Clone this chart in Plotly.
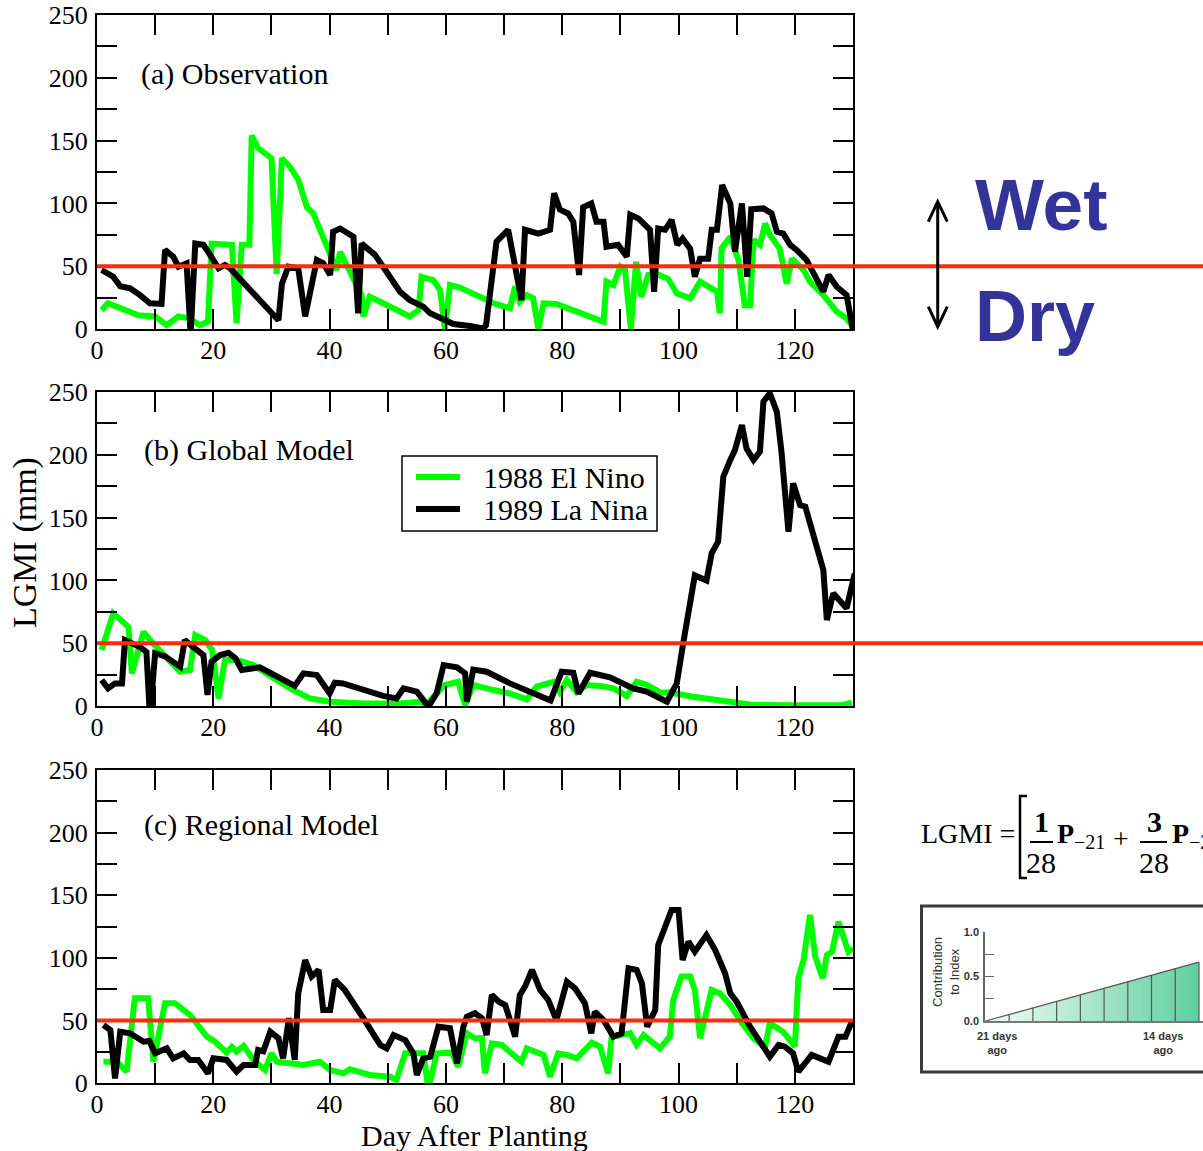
import plotly.graph_objects as go

W, H = 1203, 1151


def px(x):
    return x / W


def py(y):
    return 1 - y / H


GREEN = "#00ff00"
BLACK = "#000000"
RED = "#ff2a10"
NAVY = "#333399"
SERIF = "Liberation Serif"
SANS = "Liberation Sans"

# ---------------- data ----------------
# (a) Observation
obs_nino_day = [0.8, 1.9, 7.1, 10, 12, 14, 15.9, 17.7, 19.1, 19.7,
                23.2, 24, 24.9, 26.2, 26.6, 27.7, 30, 30.9, 31.8, 33.2,
                34.6, 36.1, 37.2, 38.9, 40.1, 41.2, 41.8, 44.1, 45.5, 45.8,
                46.9, 48.7, 53.8, 55.3, 55.8, 57.8, 59, 59.8, 60.7, 62.4,
                65.9, 68.2, 71, 71.9, 72.7, 73.9, 75, 75.9, 76.8, 79,
                82.5, 87.1, 87.6, 88.8, 90, 90.8, 91.8, 92.7, 93.6, 94.8,
                96.2, 98.2, 99.7, 100.8, 102, 103.7, 105.4, 106.6, 107.1, 107.4,
                108.9, 110.3, 111.4, 112.3, 112.9, 114, 114.9, 115.7, 117.4, 118.6,
                119.5, 121.5, 122.6, 124.9, 127.2, 128.9, 129.8]
obs_nino_val = [15, 20.5, 11, 10, 3, 10, 8.5, 3, 6, 68,
                67, 4.5, 67, 67, 154, 144, 136, 44, 136, 129,
                119, 97, 92, 73.5, 60, 47, 61.5, 41.6, 27, 10,
                25.7, 21.7, 10, 15, 41.6, 39, 31, 0, 35, 33,
                25.7, 20.5, 16.5, 33.7, 21.7, 27, 24.4, 0, 20.5, 20,
                13.8, 5.8, 37.7, 35, 49.6, 47, 0, 53.6, 25.7, 43,
                44, 40, 28.4, 27, 24.4, 37.7, 33.7, 29.7, 12.5, 64,
                73.5, 55, 19, 19, 71, 67, 84, 75, 64, 36,
                56, 47, 37.7, 27, 13.8, 8.5, 3]
obs_nina_day = [0.8, 2.8, 4, 5.7, 7.4, 9.1, 11.1, 11.7, 13.1, 14,
                15.4, 16.1, 16.9, 18.3, 19.1, 20.9, 22, 22.9, 31.2, 31.8,
                32.9, 34.6, 35.8, 37.8, 38.9, 40.1, 40.6, 41.8, 44.1, 44.9,
                45.5, 47.8, 49.2, 52.1, 53.8, 56.1, 57.3, 59, 61.3, 64.1,
                66.4, 66.9, 68.7, 70.7, 73, 73.6, 75.9, 77.9, 78.6, 79.6,
                81, 81.9, 82.9, 83.6, 85, 85.9, 87.1, 87.6, 89.6, 91.1,
                91.7, 93.1, 95.1, 95.8, 96.5, 97.7, 98.8, 99.8, 100.7, 102,
                102.8, 103.7, 105.1, 105.7, 106.6, 107.5, 108.9, 109.7, 110.9, 111.8,
                112.5, 114.6, 116, 116.9, 118, 119.2, 120.3, 122, 124.9, 125.8,
                127.2, 128.9, 130.3]
obs_nina_val = [47, 41.6, 34, 32.4, 27, 20.5, 20, 63, 57.6, 49.6,
                52.3, -4, 68, 67, 61.5, 48.3, 51, 48.3, 7, 36,
                49.6, 48.3, 10, 55, 52.3, 43, 77.5, 80, 73.5, 12.5,
                68, 59, 49.6, 29.7, 23, 17.8, 12.5, 8.5, 4, 2.4,
                0.5, 3, 69.5, 79, 23, 79, 76, 79, 108, 95,
                92, 85.4, 43, 97, 100, 85.4, 85.4, 65.5, 67, 57.6,
                91, 88, 79, 29.7, 80, 79, 86.8, 67, 72, 64,
                41.6, 56, 56, 79, 79, 114.6, 100, 61.5, 100, 41.6,
                95.3, 96, 92, 77.5, 76, 67, 63, 55, 29.7, 43,
                33.7, 27, -9]

# (b) Global Model
glb_nino_day = [0.8, 2.8, 5.4, 6, 8, 9.4, 14.3, 16, 16.9, 18.6,
                19.8, 20.9, 22, 24, 26.9, 29.2, 33.2, 36.6, 40.1, 45.8,
                52.1, 55.5, 56.6, 59.8, 62.1, 63.3, 64.7, 68.2, 71, 73.9,
                75.6, 78.5, 79.6, 80.8, 82.5, 84.2, 86.5, 88.8, 91.1, 92.8,
                94.6, 96.9, 98.3, 102.5, 108.3, 112.9, 119.7, 127.8, 129.8]
glb_nino_val = [44.6, 73.8, 63, 26, 59, 51, 27.3, 28.7, 56.5, 52.5,
                44.6, 6, 36.6, 36.6, 32.6, 26, 14, 6, 3.4, 2,
                2, 3.4, 1, 16.7, 19.3, 0.8, 16.7, 12.7, 10, 5.3,
                15.4, 19.3, 11, 20.7, 11, 16.7, 16, 14, 8, 19.3,
                16.7, 10.6, 11, 7.4, 3.4, 0.8, 0.5, 0.5, 2.6]
glb_nina_day = [0.8, 1.9, 3.1, 4.3, 4.8, 7.4, 8.5, 9.1, 10, 11.7,
                14.3, 15.1, 16.5, 18.3, 19, 19.7, 21.2, 22.6, 23.8, 24.9,
                28, 30.3, 32, 34, 35.5, 37.8, 40, 40.9, 42.3, 46.4,
                49.2, 51.5, 52.7, 55, 57, 58.4, 59.6, 61.9, 63.3, 63.6,
                64.7, 67, 71, 78, 79.9, 81.9, 82.8, 84.8, 88.2, 92.2,
                94.5, 98, 99.7, 100.8, 102.8, 104.8, 105.7, 106.8, 107.7, 108.9,
                109.7, 110.9, 111.7, 112.9, 114, 114.6, 115.7, 116.9, 117.7, 118.9,
                119.7, 120.9, 121.8, 124.9, 125.5, 126.6, 128, 128.9, 130.3]
glb_nina_val = [20.7, 14, 18, 18, 52.5, 47, 43, -8, 42, 39.5,
                31.3, 52.5, 47, 40.6, 8.8, 35.3, 40.6, 42.4, 38, 28.7,
                30.8, 24.7, 21.3, 16, 26, 24.7, 10, 18.5, 18, 11.4,
                8, 6, 14, 11.4, -0.5, 10, 32.6, 30.8, 26, 3.4,
                29, 27.3, 18, 4.3, 27.3, 26.5, 10, 26.5, 22.8, 14,
                11.4, 3.4, 18, 50, 104, 100, 121.5, 130.8, 182.6, 195.9,
                203.8, 223.7, 205, 195.9, 202.5, 242.3, 249, 234.3, 202.5, 138.8,
                177.3, 160, 158.7, 108.3, 68.5, 89.7, 81.8, 77.8, 105.6]

# (c) Regional Model
reg_nino_day = [1.1, 3.4, 5.1, 6.5, 8.8, 9.7, 11.7, 13.4, 16, 18.9,
                20.3, 22.3, 23.2, 24, 25.2, 26.9, 28.9, 30, 30.9, 34.3,
                35.5, 38.3, 40.1, 42.4, 43.5, 46.9, 50.4, 51.5, 53, 56.1,
                57, 58.4, 61, 62.1, 63.6, 65, 66.2, 66.7, 67.9, 69.6,
                73, 73.9, 76.8, 77.9, 79.3, 80.8, 82.5, 85.1, 86.5, 87.9,
                88.5, 91.7, 92.8, 94, 96.8, 98.5, 99.1, 100.5, 102, 102.8,
                103.7, 105.7, 107.1, 108.9, 110.9, 112.9, 114.9, 115.7, 116.9, 118,
                120, 120.6, 121.5, 122.6, 123.5, 124.8, 125.5, 126.4, 127.5, 128.3,
                129.2, 130]
reg_nino_val = [17, 17, 9, 67.6, 67.6, 17, 63.7, 63.7, 54.3, 37,
                33, 24.2, 28.9, 25, 29.6, 18.4, 10.4, 23.7, 17, 15.7,
                14.4, 17, 10.4, 7.7, 11, 6.4, 5, 2.4, 23.7, 23.7,
                -5, 23.7, 24.2, 13, 39.7, 35.7, 35.7, 7.7, 31.7, 30.4,
                17, 27.7, 22.4, 5, 23.7, 22.4, 19.7, 32.2, 29, 7.7,
                37, 39.7, 30.4, 38.3, 27.7, 37, 66.3, 85, 85, 74.3,
                35.7, 74.3, 71.6, 62.3, 47.7, 35.7, 29, 47.7, 43.7, 41,
                29, 83.6, 98.2, 134.2, 100.9, 83.6, 102.2, 104.9, 128.8, 116.8,
                104.9, 107.5]
reg_nina_day = [1.1, 2.3, 3.1, 4, 5.7, 8, 9, 10, 12, 13.1,
                14.9, 16, 17.4, 19.1, 20, 22.3, 24, 25.2, 27.2, 27.7,
                28.6, 29.8, 31.2, 32, 33, 34, 34.6, 35.8, 36.9, 38.1,
                38.9, 40.1, 40.9, 42.6, 45.8, 48.7, 49.8, 51, 53, 54.4,
                55, 56.1, 57.3, 58.7, 60.7, 61.9, 63, 63.6, 65, 66.2,
                67, 67.9, 69.1, 70.2, 71.9, 72.7, 73.6, 74.8, 76.2, 77.6,
                79, 80.8, 82.2, 83.9, 85, 85.6, 87.1, 88.8, 90.2, 91.4,
                92.8, 93.7, 94.6, 96, 96.5, 97.7, 98.8, 100, 100.7, 101.7,
                102.8, 104.8, 106.3, 108, 108.9, 110, 112.3, 115.7, 117.2, 118.3,
                119.7, 120.6, 122.9, 125.8, 127.5, 128.7, 129.8]
reg_nina_val = [46.3, 42.3, 3.7, 41, 39.7, 33, 33.5, 23.7, 27.7, 19.7,
                23.7, 18.4, 18.4, 7.7, 19.7, 18.4, 9, 14.4, 14.4, 26.4,
                25.3, 41, 35.7, 19.7, 51.7, 18.4, 71.6, 98.2, 85, 90.3,
                58.3, 58.3, 82.3, 74.3, 51.7, 30.4, 27.7, 38.3, 34.3, 23.7,
                6.4, 19.7, 21, 45, 43.7, 15.7, 45, 53, 55.7, 51.7,
                38.3, 70.3, 64.9, 62.3, 37, 70.3, 76.9, 90.3, 74.3, 66.3,
                50.3, 80.9, 75.6, 63.7, 39.7, 57, 50.3, 37, 39.7, 91.6,
                90.3, 79.6, 45, 58.3, 110.2, 126.2, 138.2, 138.2, 98.2, 112.9,
                104.9, 118.2, 106.2, 87.6, 71.6, 64.9, 45, 21, 30.4, 29,
                23.7, 9, 22.4, 17, 37, 37, 49]

panel_titles = ["(a) Observation", "(b) Global Model", "(c) Regional Model"]
series_names = ["1988 El Nino", "1989 La Nina"]
threshold = 50

# inset (contribution-to-index ramp), day edges relative to today
inset_day_edge = [-21.5, -20.5, -19.5, -18.5, -17.5, -16.5, -15.5, -14.5, -13.5, -12.5]
inset_weight = [0.0, 0.073, 0.147, 0.22, 0.293, 0.367, 0.44, 0.513, 0.587, 0.66]
inset_labels = [(-21, "21 days<br>ago"), (-14, "14 days<br>ago")]

# ---------------- figure ----------------
fig = go.Figure()

panels = [
    (obs_nino_day, obs_nino_val, obs_nina_day, obs_nina_val),
    (glb_nino_day, glb_nino_val, glb_nina_day, glb_nina_val),
    (reg_nino_day, reg_nino_val, reg_nina_day, reg_nina_val),
]
for i, (gd, gv, bd, bv) in enumerate(panels):
    xa = "x" if i == 0 else f"x{i + 1}"
    ya = "y" if i == 0 else f"y{i + 1}"
    fig.add_trace(go.Scatter(x=gd, y=gv, mode="lines", name=series_names[0],
                             line=dict(color=GREEN, width=6),
                             showlegend=False, xaxis=xa, yaxis=ya))
    fig.add_trace(go.Scatter(x=bd, y=bv, mode="lines", name=series_names[1],
                             line=dict(color=BLACK, width=6),
                             showlegend=False, xaxis=xa, yaxis=ya))

# inset traces
fig.add_trace(go.Scatter(
    x=inset_day_edge, y=inset_weight, mode="lines", fill="tozeroy",
    fillgradient=dict(type="horizontal",
                      colorscale=[[0, "#f2fbf7"], [1, "#5fcf9e"]]),
    line=dict(color="#555555", width=1.2), showlegend=False,
    xaxis="x4", yaxis="y4"))
vx, vy = [], []
for e, w in zip(inset_day_edge, inset_weight):
    vx += [e, e, None]
    vy += [0, w, None]
fig.add_trace(go.Scatter(x=vx, y=vy, mode="lines",
                         line=dict(color="#555555", width=1.2),
                         showlegend=False, xaxis="x4", yaxis="y4"))

xdom = [px(97), px(853)]
ydoms = [[py(329), py(15)], [py(706), py(392)], [py(1083), py(770)]]

tickfont = dict(family=SERIF, size=26, color="black")
layout = dict(
    width=W, height=H, margin=dict(l=0, r=0, t=0, b=0, autoexpand=False),
    paper_bgcolor="white", plot_bgcolor="white",
    showlegend=False,
)
for i in range(3):
    sx = "" if i == 0 else str(i + 1)
    layout[f"xaxis{sx}"] = dict(
        domain=xdom, anchor=f"y{sx}", range=[0, 130], automargin=False,
        showline=True, linecolor="black", linewidth=2, mirror="allticks",
        ticks="inside", ticklen=20, tickwidth=2, tickcolor="black",
        tick0=0, dtick=20, showgrid=False, zeroline=False,
        tickfont=tickfont, ticklabelstandoff=-3,
        minor=dict(dtick=10, tick0=0, ticks="inside", ticklen=20,
                   tickwidth=2, tickcolor="black", showgrid=False),
    )
    layout[f"yaxis{sx}"] = dict(
        domain=ydoms[i], anchor=f"x{sx}", range=[0, 250], automargin=False,
        showline=True, linecolor="black", linewidth=2, mirror="allticks",
        ticks="inside", ticklen=20, tickwidth=2, tickcolor="black",
        tick0=0, dtick=50, showgrid=False, zeroline=False,
        tickfont=tickfont, ticklabelstandoff=2,
        minor=dict(dtick=25, tick0=0, ticks="inside", ticklen=20,
                   tickwidth=2, tickcolor="black", showgrid=False),
    )

layout["xaxis4"] = dict(
    domain=[px(985), 1.0], anchor="y4", range=[-21.52, -12.33],
    automargin=False,
    showline=True, linecolor="#777777", linewidth=1.5,
    ticks="", showticklabels=False, showgrid=False, zeroline=False)
layout["yaxis4"] = dict(
    domain=[py(1021), py(931.7)], anchor="x4", range=[0, 1.0],
    automargin=False,
    showline=True, linecolor="#666666", linewidth=1.5,
    ticks="inside", ticklen=9, tickwidth=1.2, tickcolor="#666666",
    tickvals=[0, 0.5, 1.0], ticktext=["0.0", "0.5", "1.0"],
    tickfont=dict(family=SANS, size=11, color="#333333", weight="bold"),
    ticklabelstandoff=2,
    minor=dict(tickvals=[0.25, 0.75], ticks="inside", ticklen=9,
               tickwidth=1.2, tickcolor="#666666"),
    showgrid=False, zeroline=False)

shapes = []
# threshold lines: (a) and (b) run to the right edge, (c) stops at its frame
for i, x_end in enumerate([1.0, 1.0, px(853)]):
    ya = "y" if i == 0 else f"y{i + 1}"
    shapes.append(dict(type="line", xref="paper", yref=ya,
                       x0=px(97), x1=x_end, y0=threshold, y1=threshold,
                       line=dict(color=RED, width=4), layer="above"))

# legend box (panel b)
shapes.append(dict(type="rect", xref="paper", yref="paper",
                   x0=px(402), x1=px(657), y0=py(531), y1=py(456),
                   line=dict(color="black", width=1.5), fillcolor="white",
                   layer="above"))
for yy, col in [(477, GREEN), (509, BLACK)]:
    shapes.append(dict(type="line", xref="paper", yref="paper",
                       x0=px(416), x1=px(460), y0=py(yy), y1=py(yy),
                       line=dict(color=col, width=6), layer="above"))

# wet / dry arrow
ax = 937.7
shapes.append(dict(type="line", xref="paper", yref="paper",
                   x0=px(ax), x1=px(ax), y0=py(203), y1=py(325),
                   line=dict(color="black", width=3)))
for tip, arm in [(201.7, 221.7), (326.7, 306.7)]:
    shapes.append(dict(
        type="path", xref="paper", yref="paper",
        path=f"M {px(928.3)} {py(arm)} L {px(ax)} {py(tip)} L {px(947.3)} {py(arm)}",
        line=dict(color="black", width=3)))

# equation bracket and fraction bars
shapes.append(dict(
    type="path", xref="paper", yref="paper",
    path=f"M {px(1027)} {py(796)} L {px(1020)} {py(796)} L {px(1020)} {py(878)} L {px(1027)} {py(878)}",
    line=dict(color="black", width=2.5)))
for x0, x1 in [(1030, 1053), (1140, 1167)]:
    shapes.append(dict(type="line", xref="paper", yref="paper",
                       x0=px(x0), x1=px(x1), y0=py(842), y1=py(842),
                       line=dict(color="black", width=2)))

# inset frame
shapes.append(dict(type="rect", xref="paper", yref="paper",
                   x0=px(921.5), x1=px(1215), y0=py(1072), y1=py(906),
                   line=dict(color="#3a3a3a", width=3)))
layout["shapes"] = shapes

ann = []


def text(x, y, s, size, family=SERIF, color="black", xanchor="left",
         yanchor="middle", weight="normal", angle=0):
    ann.append(dict(x=px(x), y=py(y), xref="paper", yref="paper", text=s,
                    showarrow=False, xanchor=xanchor, yanchor=yanchor,
                    textangle=angle,
                    font=dict(family=family, size=size, color=color,
                              weight=weight)))


text(139, 74, panel_titles[0], 30)
text(142, 450, panel_titles[1], 30)
text(142, 825, panel_titles[2], 30)
text(474, 1135, "Day After Planting", 30, xanchor="center")
text(25, 543, "LGMI (mm)", 34, xanchor="center", angle=-90)

# legend texts
text(481, 477, series_names[0], 30)
text(481, 509, series_names[1], 30)

text(973, 204, "Wet", 73, family=SANS, color=NAVY, weight="bold")
text(973, 316, "Dry", 72, family=SANS, color=NAVY, weight="bold")

# equation
text(919, 833, "LGMI =", 28)
text(1041, 821, "1", 30, xanchor="center", weight="bold")
text(1041, 862, "28", 30, xanchor="center")
text(1055, 833, "P", 28, weight="bold")
text(1072, 842, "\u221221", 20)
text(1121, 838, "+", 28, xanchor="center")
text(1154, 821, "3", 30, xanchor="center", weight="bold")
text(1154, 862, "28", 30, xanchor="center")
text(1170, 833, "P", 28, weight="bold")
text(1187, 842, "\u221221", 20)

# inset texts
text(946, 972, "Contribution<br>to Index", 13, family=SANS, color="#333333",
     xanchor="center", angle=-90)
for d, lab in inset_labels:
    ann.append(dict(x=d, y=py(1028), xref="x4", yref="paper", text=lab,
                    showarrow=False, xanchor="center", yanchor="top",
                    font=dict(family=SANS, size=11, color="#333333",
                              weight="bold")))

layout["annotations"] = ann
fig.update_layout(**layout)

fig.write_html("out.html")
